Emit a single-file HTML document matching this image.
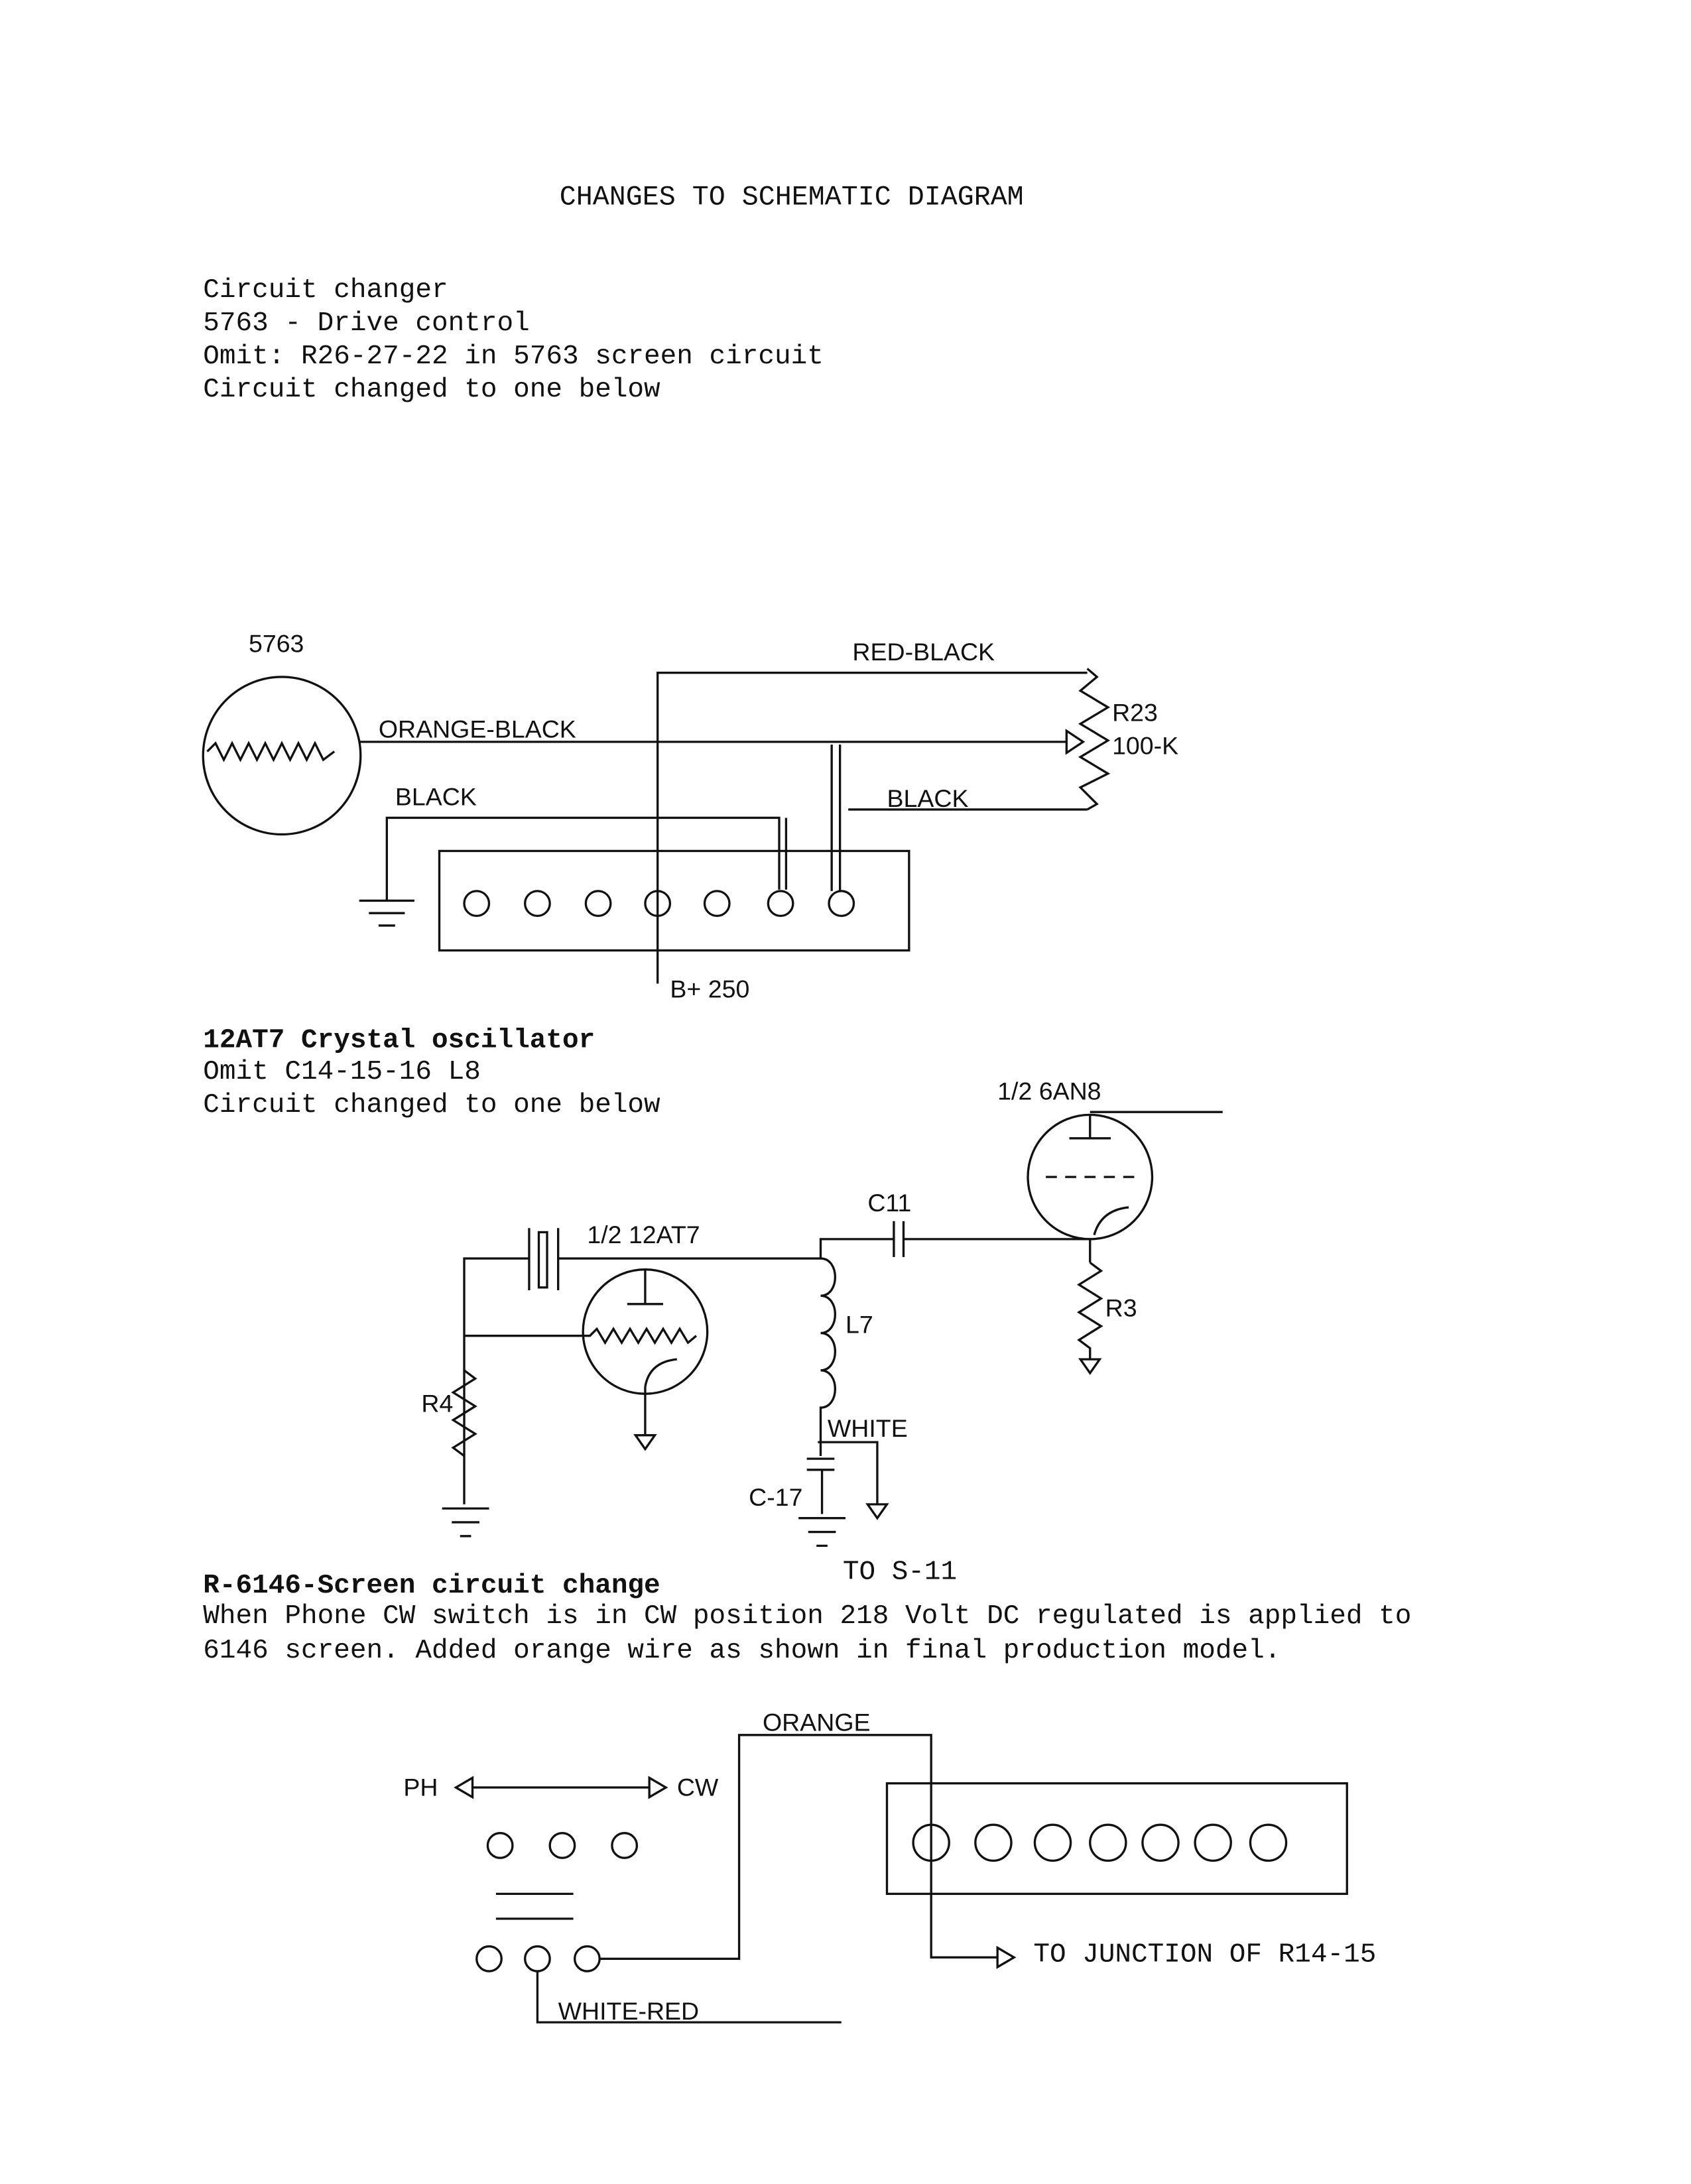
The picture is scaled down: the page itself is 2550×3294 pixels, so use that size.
<!DOCTYPE html>
<html><head><meta charset="utf-8"><style>
html,body{margin:0;padding:0;background:#fff;}
svg{display:block;}
text{fill:#111;}
.m{font-family:"Liberation Mono",monospace;font-size:19.7px;}
.s{font-family:"Liberation Sans",sans-serif;font-size:18px;}
</style></head><body>
<svg width="2550" height="3294" viewBox="0 0 1224 1581" xmlns="http://www.w3.org/2000/svg" fill="none" stroke="#111" stroke-width="1.6">
<g transform="translate(2,4)">
<text class="m" x="403" y="144" stroke="none" style="font-size:20px">CHANGES TO SCHEMATIC DIAGRAM</text>
<g class="m" stroke="none">
<text x="145" y="211">Circuit changer</text>
<text x="145" y="235">5763 - Drive control</text>
<text x="145" y="259">Omit: R26-27-22 in 5763 screen circuit</text>
<text x="145" y="283">Circuit changed to one below</text>
<text x="145" y="754" font-weight="bold">12AT7 Crystal oscillator</text>
<text x="145" y="777">Omit C14-15-16 L8</text>
<text x="145" y="801">Circuit changed to one below</text>
<text x="145" y="1149" font-weight="bold">R-6146-Screen circuit change</text>
<text x="145" y="1171">When Phone CW switch is in CW position 218 Volt DC regulated is applied to</text>
<text x="145" y="1196">6146 screen.  Added orange wire as shown  in final production model.</text>
</g>
<!-- diagram 1 -->
<circle cx="202" cy="543" r="57"/>
<polyline points="148,540 154,534 160,546 166,534 172,546 178,534 184,546 190,534 196,546 202,534 208,546 214,534 220,546 226,534 232,546 240,540"/>
<text class="s" x="178" y="468" stroke="none" font-size="20">5763</text>
<line x1="258" y1="533" x2="770" y2="533"/>
<polygon points="770,525 782,533 770,541"/>
<polyline points="785,480 792,486 780,496 800,508 780,520 800,532 780,544 800,556 780,566 792,578 785,582"/>
<text class="s" x="615" y="474" stroke="none">RED-BLACK</text>
<text class="s" x="272" y="530" stroke="none">ORANGE-BLACK</text>
<text class="s" x="803" y="518" stroke="none">R23</text>
<text class="s" x="803" y="542" stroke="none">100-K</text>
<polyline points="474,708 474,483 785,483"/>
<text class="s" x="284" y="579" stroke="none">BLACK</text>
<polyline points="278,648 278,588 562,588 562,640"/>
<line x1="567" y1="588" x2="567" y2="640"/>
<line x1="258" y1="648" x2="298" y2="648"/><line x1="265" y1="657" x2="291" y2="657"/><line x1="272" y1="666" x2="284" y2="666"/>
<rect x="316" y="612" width="340" height="72"/>
<g><circle cx="343" cy="650" r="9"/><circle cx="387" cy="650" r="9"/><circle cx="431" cy="650" r="9"/><circle cx="474" cy="650" r="9"/><circle cx="517" cy="650" r="9"/><circle cx="563" cy="650" r="9"/><circle cx="607" cy="650" r="9"/></g>
<line x1="600" y1="535" x2="600" y2="641"/><line x1="606" y1="535" x2="606" y2="641"/>
<polyline points="612,582 785,582"/>
<text class="s" x="640" y="580" stroke="none">BLACK</text>
<text class="s" x="483" y="718" stroke="none">B+ 250</text>
<!-- diagram 2 -->
<text class="s" x="720" y="792" stroke="none" font-size="20">1/2 6AN8</text>
<circle cx="787" cy="848" r="45"/>
<polyline points="787,803 787,820"/><line x1="772" y1="820" x2="802" y2="820"/><line x1="787" y1="801" x2="883" y2="801"/>
<line x1="755" y1="848" x2="820" y2="848" stroke-dasharray="8,6"/>
<path d="M790,890 Q795,872 815,870"/>
<polyline points="592,907 592,893 645,893"/><line x1="645" y1="880" x2="645" y2="906"/><line x1="652" y1="880" x2="652" y2="906"/><polyline points="652,893 787,893 787,910"/>
<text class="s" x="626" y="873" stroke="none" font-size="20">C11</text>
<polyline points="787,910 795,916 779,926 795,936 779,946 795,956 779,966 787,972 787,980"/>
<polygon points="780,980 794,980 787,990"/>
<text class="s" x="798" y="949" stroke="none">R3</text>
<text class="s" x="423" y="896" stroke="none" font-size="20">1/2 12AT7</text>
<circle cx="465" cy="960" r="45"/>
<polyline points="334,1085 334,907 381,907"/><line x1="381" y1="885" x2="381" y2="930"/><rect x="388" y="888" width="6" height="40"/><line x1="402" y1="885" x2="402" y2="930"/><polyline points="402,907 592,907"/>
<line x1="465" y1="915" x2="465" y2="940"/><line x1="452" y1="940" x2="478" y2="940"/>
<polyline points="334,963 425,963 430,958 436,968 442,958 448,968 454,958 460,968 466,958 472,968 478,958 484,968 490,958 496,968 502,963"/>
<path d="M465,1000 Q468,982 488,980"/>
<polyline points="465,1000 465,1035"/><polygon points="458,1035 472,1035 465,1045"/>
<polyline points="334,988 342,994 326,1004 342,1014 326,1024 342,1034 326,1044 334,1050"/>
<text class="s" x="303" y="1018" stroke="none">R4</text>
<line x1="318" y1="1088" x2="352" y2="1088"/><line x1="325" y1="1098" x2="345" y2="1098"/><line x1="331" y1="1108" x2="339" y2="1108"/>
<path d="M592,907 c14,0 14,27 0,27 c14,0 14,27 0,27 c14,0 14,27 0,27 c14,0 14,27 0,27 L592,1050"/>
<text class="s" x="610" y="961" stroke="none">L7</text>
<polyline points="590,1040 633,1040 633,1085"/><polygon points="626,1085 640,1085 633,1095"/>
<text class="s" x="597" y="1036" stroke="none">WHITE</text>
<line x1="582" y1="1052" x2="602" y2="1052"/><line x1="582" y1="1060" x2="602" y2="1060"/><line x1="593" y1="1060" x2="593" y2="1092"/>
<text class="s" x="540" y="1086" stroke="none">C-17</text>
<line x1="576" y1="1095" x2="610" y2="1095"/><line x1="583" y1="1105" x2="603" y2="1105"/><line x1="589" y1="1115" x2="597" y2="1115"/>
<text class="m" x="608" y="1139" stroke="none">TO S-11</text>
<!-- diagram 3 -->
<text class="s" x="290" y="1296" stroke="none">PH</text>
<line x1="340" y1="1290" x2="468" y2="1290"/>
<polygon points="340,1283 328,1290 340,1297"/><polygon points="468,1283 480,1290 468,1297"/>
<text class="s" x="488" y="1296" stroke="none">CW</text>
<circle cx="360" cy="1332" r="9"/><circle cx="405" cy="1332" r="9"/><circle cx="450" cy="1332" r="9"/>
<line x1="357" y1="1367" x2="413" y2="1367"/><line x1="357" y1="1385" x2="413" y2="1385"/>
<circle cx="352" cy="1414" r="9"/><circle cx="387" cy="1414" r="9"/><circle cx="423" cy="1414" r="9"/>
<polyline points="432,1414 533,1414 533,1252 672,1252 672,1413 720,1413"/>
<polygon points="720,1406 732,1413 720,1420"/>
<text class="s" x="550" y="1249" stroke="none">ORANGE</text>
<text class="m" x="746" y="1416" stroke="none">TO JUNCTION OF R14-15</text>
<rect x="640" y="1287" width="333" height="80"/>
<g><circle cx="672" cy="1330" r="13"/><circle cx="717" cy="1330" r="13"/><circle cx="760" cy="1330" r="13"/><circle cx="800" cy="1330" r="13"/><circle cx="838" cy="1330" r="13"/><circle cx="876" cy="1330" r="13"/><circle cx="916" cy="1330" r="13"/></g>
<polyline points="387,1423 387,1460 607,1460"/>
<text class="s" x="402" y="1458" stroke="none">WHITE-RED</text>
</g>
</svg>
</body></html>
